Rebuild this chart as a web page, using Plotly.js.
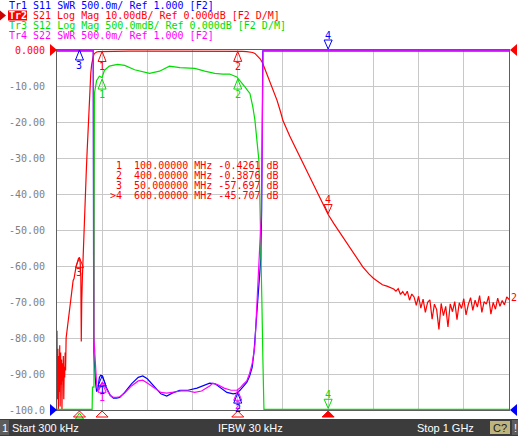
<!DOCTYPE html>
<html><head><meta charset="utf-8">
<script src="https://cdn.plot.ly/plotly-3.0.1.min.js"></script>
<style>html,body{margin:0;padding:0;background:#fff;overflow:hidden}#chart{width:518px;height:436px}</style>
</head><body><div id="chart"></div>
<script>
// ---------------- DATA ----------------
// Tr2 S21 (Log Mag, dB)
const s21Freq = [0.3,1.3,2.3,3.3,4.3,5.3,6.3,7.3,8.3,9.3,10.3,11.3,12.3,13.3,14.3,15.3,16.3,17.3,18.3,19.3,
 20.5,22,24,26,28,30,32,34,36,38,40,42,44,46,48,50,51.5,53,54,55,56.5,58,59.5,61,63,65,67,69,71,73,75,77,79,81,83,85,88,92,100,
 110,120,140,160,180,200,220,240,260,280,300,320,340,360,380,400,410,420,427,433,438,445,450,455,460,465,471,480,487,495,500,515,538,556,575,590,600,613,626,648,663,677,690,700,710,720,730,738,
 745,750,755,760,765,770,775,780,785,790,795,800,805,810,815,820,825,830,835,840,845,850,855,860,865,870,875,880,885,890,895,900,905,910,915,920,925,930,935,940,945,950,955,960,965,970,975,980,985,990,995,1000];
const s21Val = [-78,-97,-83,-100,-85,-95,-82,-99,-84,-93,-86,-100,-87,-92,-85,-97,-88,-91,-84,-89,
 -80,-78.5,-75,-73,-71.5,-69,-67.5,-66,-64,-63.5,-61.5,-60.5,-59.5,-58.5,-57.8,-57.7,-59,-63,-81,-70,-63,-57,-52,-46,-40,-34,-28,-22,-16,-10.5,-6.5,-4,-2.5,-1.5,-1.0,-0.7,-0.55,-0.45,-0.4261,
 -0.36,-0.3,-0.28,-0.3,-0.34,-0.33,-0.3,-0.29,-0.31,-0.34,-0.33,-0.32,-0.34,-0.36,-0.36,-0.3876,-0.4,-0.43,-0.5,-0.7,-0.95,-1.7,-2.5,-3.6,-5.2,-6.8,-8.8,-11.8,-14.0,-17.3,-19.6,-23.9,-29.8,-34.4,-39.6,-43.2,-45.707,-48.3,-50.8,-54.8,-57.8,-60.3,-62.2,-63.4,-64.3,-65.2,-65.6,-66.1,
 -66.4,-67.0,-66.3,-67.9,-67.1,-68.2,-67.0,-69.5,-67.8,-68.6,-70.9,-68.4,-71.7,-69.2,-72.9,-70.1,-69.4,-74.8,-70.6,-72.1,-77.6,-70.4,-73.8,-71.2,-76.9,-70.5,-72.7,-69.9,-74.9,-70.2,-71.8,-69.1,-73.6,-70.7,-68.8,-72.3,-69.5,-71.4,-68.2,-72.9,-69.9,-70.6,-68.4,-73.4,-70.1,-72.0,-68.9,-71.2,-69.6,-70.8,-68.6,-69.3];

// Tr3 S12 (Log Mag, dB; displayed, clipped at scale bottom -5 dB)
const s12Freq = [0.3,78,78.7,82,83,85,88,94,100,105,116,134,150,172,205,227,249,272,305,327,349,367,382,398,405,411,416,422,427,433.5,438,442.4,446.8,449,451.2,453.4,455.7,456.5,457.5,458,1000];
const s12Val  = [-5,-5,-4.69,-4.69,-0.6,-0.5,-0.42,-0.36,-0.38,-0.28,-0.22,-0.195,-0.21,-0.27,-0.32,-0.29,-0.22,-0.24,-0.25,-0.29,-0.32,-0.33,-0.33,-0.37,-0.42,-0.46,-0.51,-0.56,-0.6,-0.79,-0.97,-1.25,-1.53,-2.09,-2.64,-3.48,-4.31,-4.84,-4.84,-5,-5];

// Tr1 S11 (SWR; displayed, clipped at scale top 6.0)
const s11Freq = [0.3,80.5,81.5,84,86,88,91,94,97,101,105,110,118,125,132,139,150,165,180,190,200,215,230,243,255,272,290,310,325,338,350,362,376,390,398,405,412,420,426,432,436,438,441,445,448,451,453,454.5,455.5,1000];
const s11Val  = [6,6,1.8,1.5,1.35,1.25,1.3,1.45,1.48,1.47,1.4,1.3,1.2,1.16,1.16,1.17,1.24,1.36,1.45,1.47,1.43,1.33,1.22,1.19,1.23,1.27,1.27,1.3,1.34,1.37,1.36,1.3,1.24,1.22,1.23,1.27,1.32,1.38,1.46,1.59,1.8,1.97,2.2,2.5,2.8,3.1,3.8,5,6,6];

// Tr4 S22 (SWR; displayed, clipped at scale top 6.0)
const s22Freq = [0.3,80.5,82,85,88,91,94,97,101,105,110,118,125,132,139,150,165,180,190,200,215,230,243,260,275,290,305,320,338,345,355,370,385,398,405,412,420,426,432,438,441,445,449,452,454,455,456,1000];
const s22Val  = [6,6,2.0,1.6,1.35,1.27,1.3,1.35,1.38,1.35,1.28,1.2,1.17,1.17,1.18,1.23,1.33,1.4,1.41,1.37,1.3,1.24,1.23,1.25,1.26,1.26,1.24,1.26,1.33,1.37,1.35,1.3,1.27,1.27,1.3,1.35,1.4,1.5,1.64,1.9,2.3,2.8,3.3,3.7,4.6,5.5,6,6];

// Markers
const markerNames = ['1','2','3','4'];
const markerFreq  = [100, 400, 50, 600];
const s21Mk = [-0.4261, -0.3876, -57.697, -45.707];
const s12Mk = [-0.40, -0.40, null, -5.0];
const s11Mk = [1.47, 1.23, 6.0, 6.0];
const s22Mk = [1.38, 1.27, null, null];
const markerTable = [
 ' 1  100.00000 MHz -0.4261 dB',
 ' 2  400.00000 MHz -0.3876 dB',
 ' 3  50.000000 MHz -57.697 dB',
 '>4  600.00000 MHz -45.707 dB'];

// Header / axis texts
const headerLines = [
 'Tr1 S11 SWR 500.0m/ Ref 1.000 [F2]',
 'Tr2 S21 Log Mag 10.00dB/ Ref 0.000dB [F2 D/M]',
 'Tr3 S12 Log Mag 500.0mdB/ Ref 0.000dB [F2 D/M]',
 'Tr4 S22 SWR 500.0m/ Ref 1.000 [F2]'];
const yTickVals = [0,-10,-20,-30,-40,-50,-60,-70,-80,-90,-100];
const yTickText = ['0.000','-10.00','-20.00','-30.00','-40.00','-50.00','-60.00','-70.00','-80.00','-90.00','-100.0'];
const xGridVals = [100,200,300,400,500,600,700,800,900];
const statusStart = 'Start 300 kHz', statusIfbw = 'IFBW 30 kHz', statusStop = 'Stop 1 GHz';

// ---------------- STYLE / LAYOUT ----------------
const C = {s11:'#0000ff', s21:'#ff0000', s12:'#00dd00', s22:'#ff00ff'};
const MONO = 'DejaVu Sans Mono, monospace';
const L = 57, T = 50, W = 452, H = 360, FW = 518, FH = 436;
const PX = x => (x - L) / W;
const PY = y => (T + H - y) / H;
const nbsp = s => s.replace(/ /g, '\u00a0');

const traces = [
 {x:s22Freq, y:s22Val, yaxis:'y4', mode:'lines', line:{color:C.s22, width:1.2}, hoverinfo:'skip'},
 {x:s12Freq, y:s12Val, yaxis:'y3', mode:'lines', line:{color:C.s12, width:1.2}, hoverinfo:'skip'},
 {x:s11Freq, y:s11Val, yaxis:'y2', mode:'lines', line:{color:C.s11, width:1.2}, hoverinfo:'skip'},
 {x:s21Freq, y:s21Val, yaxis:'y',  mode:'lines', line:{color:C.s21, width:1.2}, hoverinfo:'skip'}
];

const shapes = [], annotations = [];

// trace markers
const ranges = {y:[-100,0], y2:[0.995,6.012], y3:[-5.01,0.005], y4:[0.995,6.012]};
function addMarkers(vals, yref, color, dirs) {
  vals.forEach((v, i) => {
    if (v === null) return;
    const atTop = v >= ranges[yref][1] - 0.02;
    const dir = dirs[i];
    const path = dir === 'below' ? 'M0,0L-4,-10L4,-10Z' : 'M0,1L-4,10L4,10Z';
    shapes.push({type:'path', xref:'x', xsizemode:'pixel', xanchor:markerFreq[i],
      yref: atTop ? 'paper' : yref, ysizemode:'pixel', yanchor: atTop ? 1 : v,
      path: path, line:{color:color, width:1}, fillcolor:'rgba(0,0,0,0)'});
    annotations.push({xref:'x', x:markerFreq[i], yref: atTop ? 'paper' : yref, y: atTop ? 1 : v,
      xanchor:'center', yanchor:'middle',
      text:markerNames[i], showarrow:false, yshift: dir === 'below' ? -15 : 15,
      font:{family:MONO, size:10, color:color}, borderpad:0, borderwidth:0});
  });
}
addMarkers(s22Mk, 'y4', C.s22, ['below','below','below','above']);
addMarkers(s12Mk, 'y3', C.s12, ['below','below','below','above']);
addMarkers(s11Mk, 'y2', C.s11, ['below','below','below','above']);
addMarkers(s21Mk, 'y',  C.s21, ['below','below','below','above']);

// stimulus markers under the axis
markerFreq.forEach((f, i) => {
  if (i === 2) {
    shapes.push({type:'path', xref:'x', xsizemode:'pixel', xanchor:f, yref:'paper', ysizemode:'pixel', yanchor:0,
      path:'M0,-3L-4,-9L4,-9Z', line:{color:C.s12, width:1}, fillcolor:'rgba(0,0,0,0)'});
  }
  const active = i === 3;
  shapes.push({type:'path', xref:'x', xsizemode:'pixel', xanchor:f, yref:'paper', ysizemode:'pixel', yanchor:0,
    path:'M0,-1L-6,-7L6,-7Z', line:{color:C.s21, width:1}, fillcolor: active ? C.s21 : 'rgba(0,0,0,0)'});
});

// reference position arrows
shapes.push({type:'path', xref:'paper', xsizemode:'pixel', xanchor:0, yref:'paper', ysizemode:'pixel', yanchor:1,
  path:'M0,0L-7,6L-7,-6Z', line:{width:0}, fillcolor:C.s21});
shapes.push({type:'path', xref:'paper', xsizemode:'pixel', xanchor:1, yref:'paper', ysizemode:'pixel', yanchor:1,
  path:'M1,0L8,6L8,-6Z', line:{width:0}, fillcolor:C.s21});
shapes.push({type:'path', xref:'paper', xsizemode:'pixel', xanchor:0, yref:'paper', ysizemode:'pixel', yanchor:0,
  path:'M0,0L-7,6L-7,-6Z', line:{width:0}, fillcolor:C.s11});
shapes.push({type:'path', xref:'paper', xsizemode:'pixel', xanchor:1, yref:'paper', ysizemode:'pixel', yanchor:0,
  path:'M1,0L8,6L8,-6Z', line:{width:0}, fillcolor:C.s11});
annotations.push({xref:'paper', yref:'paper', x:PX(511), y:PY(297), xanchor:'left', yanchor:'middle',
  text:'2', showarrow:false, font:{family:MONO, size:10, color:C.s21}, borderpad:0, borderwidth:0});

// header
const hColors = [C.s11, C.s21, C.s12, C.s22];
headerLines.forEach((line, i) => {
  const yc = 5 + i * 10;
  if (i === 1) {
    shapes.push({type:'rect', xref:'paper', yref:'paper', x0:PX(8), x1:PX(27), y0:PY(20.5), y1:PY(10.5),
      line:{width:0}, fillcolor:'#ff0000'});
    shapes.push({type:'path', xref:'paper', xsizemode:'pixel', xanchor:PX(0), yref:'paper', ysizemode:'pixel', yanchor:PY(15.5),
      path:'M6,0L0,5L0,-5Z', line:{width:0}, fillcolor:'#cc0000'});
    annotations.push({xref:'paper', yref:'paper', x:PX(8.5), y:PY(yc + 0.5), xanchor:'left', yanchor:'middle',
      text:'<b>' + line.slice(0, 3) + '</b>', showarrow:false, font:{family:MONO, size:10, color:'#ffffff'}, borderpad:0, borderwidth:0});
    annotations.push({xref:'paper', yref:'paper', x:PX(32.5), y:PY(yc + 0.5), xanchor:'left', yanchor:'middle',
      text:nbsp(line.slice(4)), showarrow:false, font:{family:MONO, size:10, color:hColors[i]}, borderpad:0, borderwidth:0});
  } else {
    annotations.push({xref:'paper', yref:'paper', x:PX(8.5), y:PY(yc + 0.5), xanchor:'left', yanchor:'middle',
      text:nbsp(line), showarrow:false, font:{family:MONO, size:10, color:hColors[i]}, borderpad:0, borderwidth:0});
  }
});

// marker table
markerTable.forEach((row, i) => {
  annotations.push({xref:'paper', yref:'paper', x:PX(110), y:PY(165.5 + i * 10), xanchor:'left', yanchor:'middle',
    text:nbsp(row), showarrow:false, font:{family:MONO, size:10, color:C.s21}, borderpad:0, borderwidth:0});
});

// status bar
shapes.push({type:'rect', xref:'paper', yref:'paper', x0:PX(0), x1:PX(FW), y0:PY(FH), y1:PY(419),
  line:{width:0}, fillcolor:'#3c3c3c'});
shapes.push({type:'rect', xref:'paper', yref:'paper', x0:PX(0), x1:PX(9), y0:PY(435), y1:PY(420),
  line:{width:0}, fillcolor:'#5c5c5c'});
shapes.push({type:'rect', xref:'paper', yref:'paper', x0:PX(490), x1:PX(510), y0:PY(434), y1:PY(421),
  line:{width:0}, fillcolor:'#bdb47e'});
shapes.push({type:'rect', xref:'paper', yref:'paper', x0:PX(512), x1:PX(FW), y0:PY(435), y1:PY(420),
  line:{width:0}, fillcolor:'#5c5c5c'});
const SB = 'Liberation Sans Narrow, Liberation Sans, Arial, sans-serif';
const sbAnn = (x, anchor, text, color) => annotations.push({xref:'paper', yref:'paper', x:PX(x), y:PY(428), xanchor:anchor, yanchor:'middle',
  text:text, showarrow:false, font:{family:SB, size:11, color:color}, borderpad:0, borderwidth:0});
sbAnn(2, 'left', '1', '#ffffff');
sbAnn(12, 'left', statusStart, '#ffffff');
sbAnn(250.5, 'center', statusIfbw, '#ffffff');
sbAnn(474, 'right', statusStop, '#ffffff');
sbAnn(500, 'center', 'C?', '#202020');
sbAnn(515, 'center', '!', '#ffffff');

const ticktext = yTickText.map((t, i) => i === 0 ? '<span style="color:#ff0000">' + t + '</span>' : t);

const layout = {
  width:FW, height:FH, margin:{l:L, r:FW - L - W, t:T, b:FH - T - H, pad:0},
  paper_bgcolor:'#ffffff', plot_bgcolor:'#ffffff', showlegend:false,
  xaxis:{range:[0.3,1000], tickvals:xGridVals, showticklabels:false, ticks:'', showgrid:true, gridcolor:'#c8c8c8', gridwidth:1,
    zeroline:false, showline:true, mirror:true, linecolor:'#5e5e5e', linewidth:1},
  yaxis:{range:ranges.y, tickvals:yTickVals, ticktext:ticktext, ticks:'', ticklabelstandoff:9, showgrid:true, gridcolor:'#c8c8c8', gridwidth:1,
    zeroline:false, showline:true, mirror:true, linecolor:'#5e5e5e', linewidth:1,
    tickfont:{family:MONO, size:10, color:'#808080'}},
  yaxis2:{range:ranges.y2, overlaying:'y', visible:false, showgrid:false, zeroline:false},
  yaxis3:{range:ranges.y3, overlaying:'y', visible:false, showgrid:false, zeroline:false},
  yaxis4:{range:ranges.y4, overlaying:'y', visible:false, showgrid:false, zeroline:false},
  shapes:shapes, annotations:annotations
};
Plotly.newPlot('chart', traces, layout, {staticPlot:true, displayModeBar:false});
</script></body></html>
